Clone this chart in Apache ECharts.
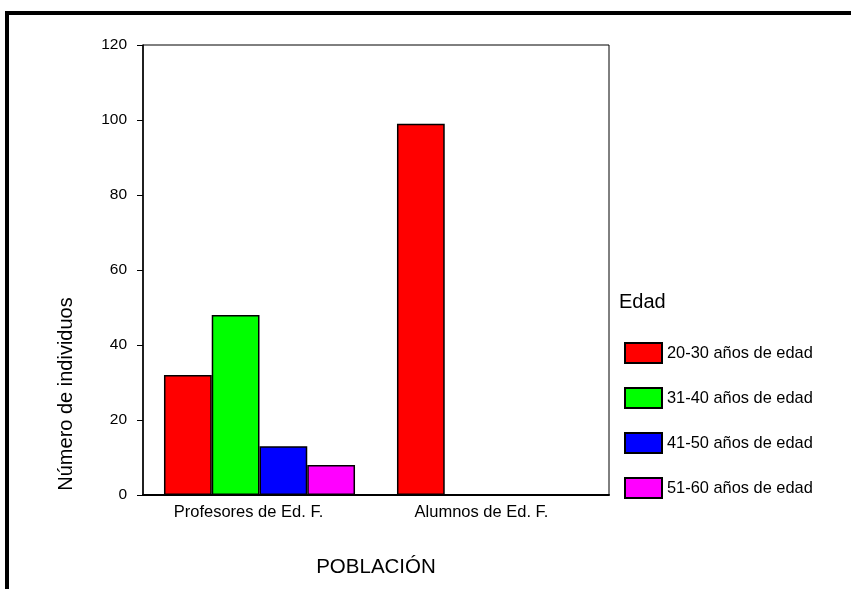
<!DOCTYPE html>
<html>
<head>
<meta charset="utf-8">
<script src="https://cdn.jsdelivr.net/npm/echarts@6/dist/echarts.min.js"></script>
<style>
html,body{margin:0;padding:0;background:#fff;}
#chart{width:851px;height:589px;}
</style>
</head>
<body>
<div id="chart"></div>
<script>
var categories = ['Profesores de Ed. F.', 'Alumnos de Ed. F.'];
var groups = ['20-30 años de edad', '31-40 años de edad', '41-50 años de edad', '51-60 años de edad'];
var colors = ['#ff0000', '#00ff00', '#0000ff', '#ff00ff'];
var edad20 = [32, 99];
var edad31 = [48, 0];
var edad41 = [13, 0];
var edad51 = [8, 0];
var yTicks = [0, 20, 40, 60, 80, 100, 120];

var font = 'Liberation Sans, Arial, sans-serif';
var chart = echarts.init(document.getElementById('chart'));

function mkSeries(name, data, color){
	return {
		name: name,
		type: 'bar',
		data: data,
		barGap: '0%',
		barCategoryGap: '18%',
		itemStyle: {color: color, borderColor: '#000', borderWidth: 1.5},
		emphasis: {disabled: true},
		animation: false
	};
}

var option = {
	animation: false,
	grid: {left: 143, right: 242, top: 45, bottom: 94, show: true, borderColor: '#000', borderWidth: 1, backgroundColor: 'transparent'},
	title: {
		text: 'Edad', left: 614, top: 287,
		textStyle: {fontFamily: font, fontSize: 20, fontWeight: 'normal', color: '#000'}
	},
	legend: {
		orient: 'vertical', left: 619, top: 337,
		itemWidth: 37, itemHeight: 20, itemGap: 23,
		icon: 'rect',
		data: groups,
		textStyle: {fontFamily: font, fontSize: 16.4, color: '#000'},
		selectedMode: false
	},
	xAxis: {
		type: 'category',
		data: categories,
		name: 'POBLACIÓN',
		nameLocation: 'middle',
		nameGap: 62,
		nameTextStyle: {fontFamily: font, fontSize: 20.5, color: '#000'},
		axisLine: {lineStyle: {color: '#000', width: 2}},
		axisTick: {alignWithLabel: true, length: 5, lineStyle: {color: '#000'}},
		axisLabel: {fontFamily: font, fontSize: 16.5, color: '#000', margin: 9, padding: [0, 22, 0, 0]}
	},
	yAxis: {
		type: 'value',
		min: 0, max: 120, interval: 20,
		axisLine: {show: true, lineStyle: {color: '#000', width: 1.5}},
		axisTick: {show: true, length: 6, lineStyle: {color: '#000'}},
		axisLabel: {fontFamily: font, fontSize: 15.5, color: '#000', margin: 16,
			formatter: function(v){ return yTicks.indexOf(v) >= 0 ? String(v) : ''; }},
		splitLine: {show: false}
	},
	graphic: [
		{type: 'rect', shape: {x: 5, y: 11, width: 846, height: 4}, style: {fill: '#000'}},
		{type: 'rect', shape: {x: 5, y: 11, width: 4, height: 578}, style: {fill: '#000'}},
		{type: 'text', x: 66, y: 394, rotation: Math.PI / 2,
			style: {text: 'Número de individuos', fontFamily: font, fontSize: 20, fill: '#000', align: 'center', verticalAlign: 'middle'}}
	],
	series: [
		mkSeries(groups[0], edad20, colors[0]),
		mkSeries(groups[1], edad31, colors[1]),
		mkSeries(groups[2], edad41, colors[2]),
		mkSeries(groups[3], edad51, colors[3])
	]
};
chart.setOption(option);
</script>
</body>
</html>
